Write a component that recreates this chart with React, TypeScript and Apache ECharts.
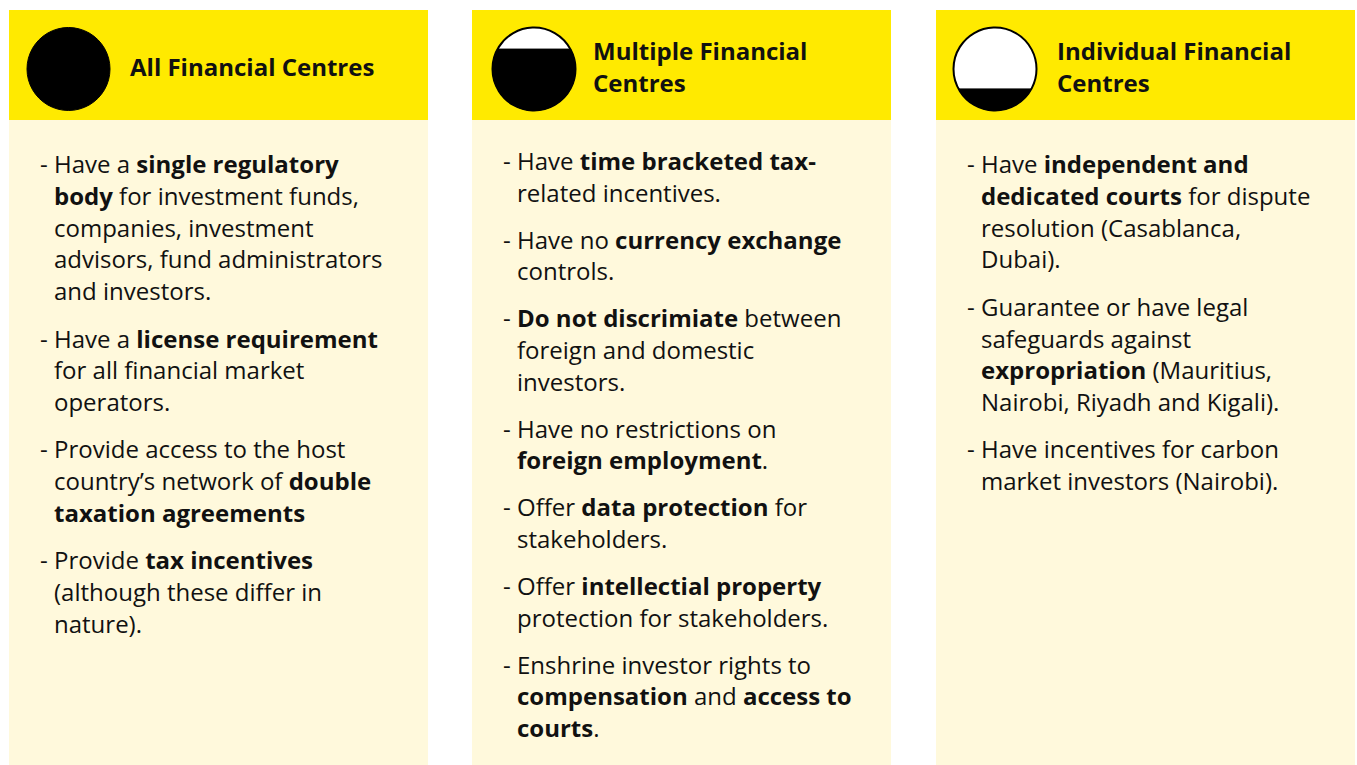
import React, { useEffect, useRef } from "react";
import * as echarts from "echarts";

const panelTitles: string[][] = [
  ["All Financial Centres"],
  ["Multiple Financial", "Centres"],
  ["Individual Financial", "Centres"],
];

// black share of each circle icon (fraction of diameter filled from the bottom)
const circleFill: number[] = [1.0, 0.74, 0.26];

const panel1Bullets: string[][] = [
  ["- Have a **single regulatory**", "**body** for investment funds,", "companies, investment", "advisors, fund administrators", "and investors."],
  ["- Have a **license requirement**", "for all financial market", "operators."],
  ["- Provide access to the host", "country’s network of **double**", "**taxation agreements**"],
  ["- Provide **tax incentives**", "(although these differ in", "nature)."],
];

const panel2Bullets: string[][] = [
  ["- Have **time bracketed tax-**", "related incentives."],
  ["- Have no **currency exchange**", "controls."],
  ["- **Do not discrimiate** between", "foreign and domestic", "investors."],
  ["- Have no restrictions on", "**foreign employment**."],
  ["- Offer **data protection** for", "stakeholders."],
  ["- Offer **intellectial property**", "protection for stakeholders."],
  ["- Enshrine investor rights to", "**compensation** and **access to**", "**courts**."],
];

const panel3Bullets: string[][] = [
  ["- Have **independent and**", "**dedicated courts** for dispute", "resolution (Casablanca,", "Dubai)."],
  ["- Guarantee or have legal", "safeguards against", "**expropriation** (Mauritius,", "Nairobi, Riyadh and Kigali)."],
  ["- Have incentives for carbon", "market investors (Nairobi)."],
];

const allBullets = [panel1Bullets, panel2Bullets, panel3Bullets];

const FONT = "'Open Sans', sans-serif";
const YELLOW = "#FFEA00";
const CREAM = "#FFF9DC";
const INK = "#111111";

function toRich(line: string): string {
  const parts = line.split("**");
  return parts
    .map((p, i) => (p.length === 0 ? "" : `{${i % 2 === 1 ? "b" : "r"}|${p}}`))
    .join("");
}

export default function App() {
  const ref = useRef<HTMLDivElement>(null);

  useEffect(() => {
    if (!ref.current) return;
    const chart = echarts.init(ref.current, undefined, { renderer: "svg" });

    const R = 41.5;
    const segPath = (chordY: number) => {
      const h = Math.sqrt(R * R - chordY * chordY);
      return `M ${h} ${chordY} A ${R} ${R} 0 ${chordY < 0 ? 1 : 0} 1 ${-h} ${chordY} Z`;
    };

    const panelLefts = [9, 472, 936];
    const circleOffsets = [59.5, 62, 59];
    const panelW = 419;
    const headerTop = 10;
    const headerH = 110;
    const bodyStart = [163.5, 160.5, 163.5];
    const lineStep = [31.8, 31.6, 31.8];
    const bulletGap = 15.5;
    const BODY_SIZE = 24;
    const TITLE_SIZE = 24;

    const elements: any[] = [];
    panelLefts.forEach((left, pi) => {
      elements.push({
        type: "rect",
        shape: { x: left, y: headerTop, width: panelW, height: headerH },
        style: { fill: YELLOW },
        silent: true,
      });
      elements.push({
        type: "rect",
        shape: { x: left, y: headerTop + headerH, width: panelW, height: 765 - headerTop - headerH },
        style: { fill: CREAM },
        silent: true,
      });
      const cx = left + circleOffsets[pi];
      const cy = 69;
      const f = circleFill[pi];
      if (f >= 1) {
        elements.push({ type: "circle", shape: { cx, cy, r: R }, style: { fill: "#000", stroke: "#000", lineWidth: 1 } });
      } else {
        elements.push({ type: "circle", shape: { cx, cy, r: R }, style: { fill: "#fff", stroke: "#000", lineWidth: 0 } });
        const chordY = R - 2 * R * f;
        const name = "seg" + pi;
        echarts.graphic.registerShape(name, echarts.graphic.extendPath(segPath(chordY), {}) as any);
        elements.push({ type: name, x: cx, y: cy, style: { fill: "#000", stroke: "#000", lineWidth: 1 } });
        elements.push({ type: "circle", shape: { cx, cy, r: R }, style: { fill: "none", stroke: "#000", lineWidth: 2 } });
      }
      const titles = panelTitles[pi];
      titles.forEach((t, ti) => {
        const y = titles.length === 1 ? 66.5 : 50.5 + ti * 32;
        elements.push({
          type: "text",
          x: left + 121,
          y,
          style: { text: t, fill: INK, font: `bold ${TITLE_SIZE}px ${FONT}`, verticalAlign: "middle", align: "left" },
        });
      });

      let y = bodyStart[pi];
      allBullets[pi].forEach((bullet) => {
        bullet.forEach((line, li) => {
          let txt = line;
          if (li === 0 && txt.startsWith("- ")) {
            txt = txt.slice(2);
            elements.push({
              type: "text",
              x: left + 31,
              y,
              style: { text: "-", fill: INK, font: `${BODY_SIZE}px ${FONT}`, verticalAlign: "middle" },
            });
          }
          elements.push({
            type: "text",
            x: left + 45,
            y,
            style: {
              text: toRich(txt),
              verticalAlign: "middle",
              align: "left",
              rich: {
                r: { fontFamily: FONT, fontSize: BODY_SIZE, fill: INK, color: INK },
                b: { fontFamily: FONT, fontSize: BODY_SIZE, fontWeight: "bold", fill: INK, color: INK },
              },
            },
          });
          y += lineStep[pi];
        });
        y += bulletGap;
      });
    });

    chart.setOption({
      animation: false,
      backgroundColor: "#ffffff",
      graphic: { elements },
    });
    return () => chart.dispose();
  }, []);

  return (
    <div
      ref={ref}
      style={{ position: "fixed", left: 0, top: 0, width: 1357, height: 765 }}
    />
  );
}
